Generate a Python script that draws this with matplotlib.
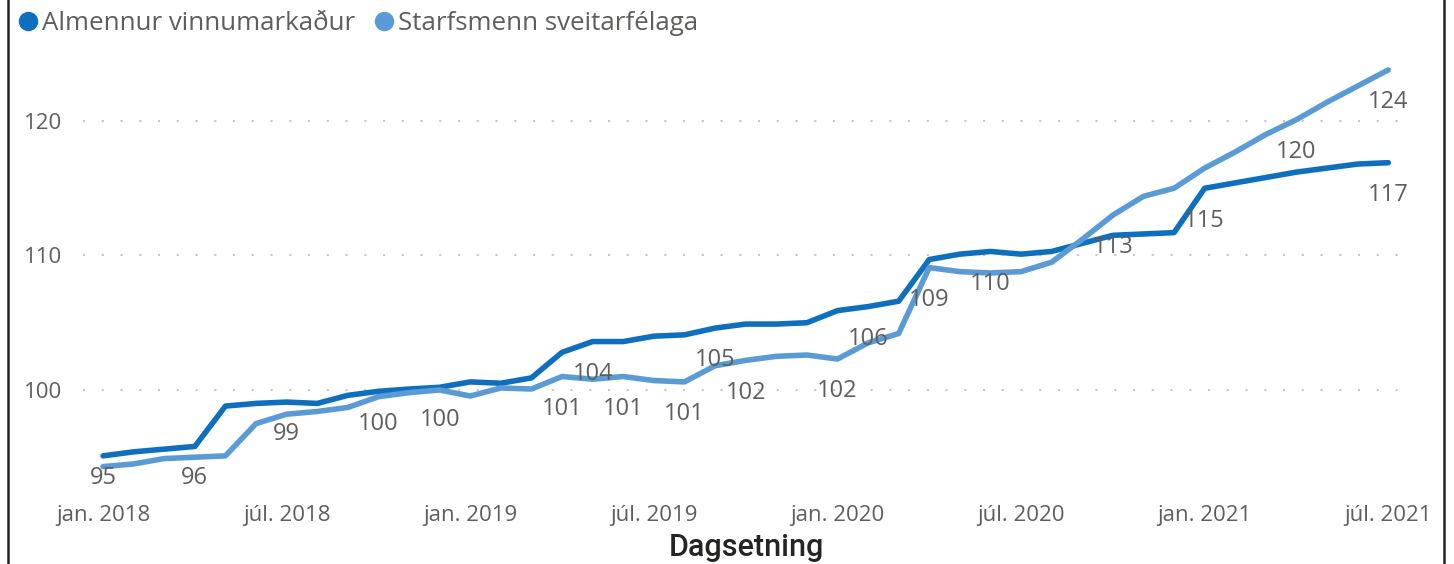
import matplotlib.pyplot as plt
from matplotlib.lines import Line2D

# Monthly index values, jan. 2018 .. júl. 2021
almennur = [95.1, 95.4, 95.6, 95.8, 98.8, 99.0, 99.1, 99.0, 99.6, 99.9,
            100.07, 100.2, 100.6, 100.5, 100.9, 102.8, 103.6, 103.6, 104.0, 104.1,
            104.6, 104.9, 104.9, 105.0, 105.9, 106.2, 106.6, 109.7, 110.1, 110.3,
            110.1, 110.3, 110.9, 111.5, 111.6, 111.7, 115.0, 115.4, 115.8, 116.2,
            116.5, 116.8, 116.9]
starfsmenn = [94.3, 94.5, 94.9, 95.0, 95.1, 97.5, 98.2, 98.4, 98.7, 99.5,
              99.8, 100.0, 99.55, 100.15, 100.07, 101.0, 100.8, 101.0, 100.7, 100.6,
              101.8, 102.2, 102.5, 102.6, 102.3, 103.5, 104.2, 109.1, 108.8, 108.7,
              108.8, 109.5, 111.2, 113.0, 114.4, 115.0, 116.5, 117.7, 119.0, 120.1,
              121.4, 122.6, 123.8]
months = list(range(len(almennur)))

# which points carry a data label
almennur_labels = [0, 3, 6, 9, 11, 16, 20, 25, 29, 36, 42]
starfsmenn_labels = [15, 17, 19, 21, 24, 27, 33, 39, 42]

tick_pos = [0, 6, 12, 18, 24, 30, 36, 42]
tick_labels = ["jan. 2018", "júl. 2018", "jan. 2019", "júl. 2019",
               "jan. 2020", "júl. 2020", "jan. 2021", "júl. 2021"]
y_ticks = [100, 110, 120]

dark = "#0F6FBF"
light = "#5B9BD5"
grey = "#605E5C"
font = ["Open Sans", "DejaVu Sans"]

fig = plt.figure(figsize=(14.54, 5.64), dpi=100)
ax = fig.add_axes([83 / 1454, 69 / 564, 1327 / 1454, 445 / 564])

ax.plot(months, almennur, color=dark, lw=4.0, solid_joinstyle="round",
        solid_capstyle="round", zorder=3)
ax.plot(months, starfsmenn, color=light, lw=4.0, solid_joinstyle="round",
        solid_capstyle="round", zorder=4)

# data labels below the points
for idx in almennur_labels:
    v = almennur[idx]
    ax.text(idx, max(v - 2.4, 93.45), f"{v:.0f}", ha="center", va="center",
            fontsize=17, color=grey, family=font, zorder=5)
for idx in starfsmenn_labels:
    v = starfsmenn[idx]
    ax.text(idx, max(v - 2.4, 93.45), f"{v:.0f}", ha="center", va="center",
            fontsize=17, color=grey, family=font, zorder=5)

ax.set_xlim(-0.654, 42.71)
ax.set_ylim(92.19, 125.28)
ax.set_xticks(tick_pos)
ax.set_xticklabels(tick_labels, family=font, fontsize=16, color=grey)
ax.set_yticks(y_ticks)
ax.set_yticklabels([str(t) for t in y_ticks], family=font, fontsize=16, color=grey)
ax.tick_params(length=0)
ax.tick_params(axis="x", pad=7)
ax.tick_params(axis="y", pad=15)
ax.grid(axis="y", color="#C8C6C4", linestyle=(0, (1, 8)), lw=1.5)
for s in ax.spines.values():
    s.set_visible(False)

fig.text(746 / 1454, 1 - 548 / 564, "Dagsetning", ha="center", va="center",
         fontsize=22, color="#252423", family=["Roboto", "DejaVu Sans"],
         fontweight="medium")

handles = [Line2D([], [], marker="o", ls="none", ms=13, color=dark),
           Line2D([], [], marker="o", ls="none", ms=13, color=light)]
fig.legend(handles, ["Almennur vinnumarkaður", "Starfsmenn sveitarfélaga"],
           loc="upper left", bbox_to_anchor=(2 / 1454, 1.008), ncol=2, frameon=False,
           handlelength=0.8, handletextpad=0.15, columnspacing=0.7,
           prop={"family": font, "size": 18.6}, labelcolor=grey, borderaxespad=0.2)

# frame edges of the visual
fig.add_artist(Line2D([8 / 1454, 8 / 1454], [0, 1], color="#222222", lw=1.8))
fig.add_artist(Line2D([1444 / 1454, 1444 / 1454], [0, 1], color="#222222", lw=1.8))

fig.savefig("out.png", dpi=100)
